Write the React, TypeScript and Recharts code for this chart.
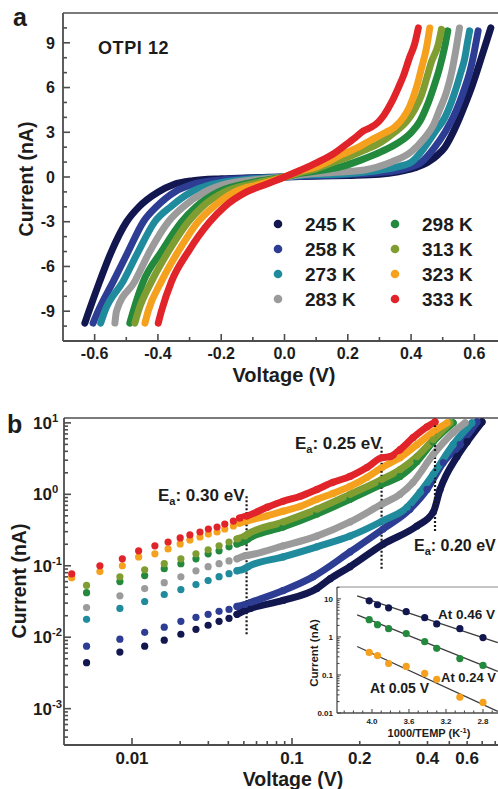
import { ComposedChart, Line, XAxis, YAxis, ReferenceLine, CartesianGrid } from "recharts";

const FONT = '"Liberation Sans", Arial, Helvetica, sans-serif';
const INK = "#1c1c1c";
const AXIS = "#4d4d4d";

const TEMPS = ["245 K", "258 K", "273 K", "283 K", "298 K", "313 K", "323 K", "333 K"];
const COLORS = ["#13174f", "#2e3d94", "#1f8b9d", "#9b9b9b", "#22893d", "#7f9d31", "#f6a11e", "#e1242a"];

// (a) current-voltage sweeps: [voltage V, current nA]
const IV_245 = [
  [-0.631, -9.8], [-0.618, -9], [-0.584, -7], [-0.547, -5], [-0.499, -3], [-0.46, -2], [-0.399, -1],
  [-0.35, -0.5], [-0.29, -0.25], [-0.2, -0.12], [-0.1, -0.05], [0, 0], [0.05, 0.03], [0.2, 0.1],
  [0.3, 0.18], [0.36, 0.35], [0.41, 0.6], [0.454, 1.0], [0.485, 1.5], [0.507, 2.0], [0.533, 3.0],
  [0.554, 4.0], [0.573, 5.0], [0.591, 6.0], [0.607, 7.0], [0.622, 8.0], [0.637, 9.0], [0.652, 10.0],
];
const IV_258 = [
  [-0.605, -9.8], [-0.589, -9], [-0.541, -7], [-0.494, -5], [-0.446, -3], [-0.405, -2], [-0.347, -1],
  [-0.29, -0.5], [-0.2, -0.2], [-0.1, -0.07], [0, 0], [0.05, 0.04], [0.2, 0.17], [0.3, 0.3], [0.38, 0.55],
  [0.433, 1.0], [0.475, 2.0], [0.507, 3.0], [0.533, 4.0], [0.553, 5.0], [0.57, 6.0], [0.585, 7.0],
  [0.596, 8.0], [0.605, 9.0], [0.612, 9.8],
];
const IV_273 = [
  [-0.581, -9.8], [-0.568, -9], [-0.51, -7], [-0.462, -5], [-0.41, -3], [-0.36, -2], [-0.294, -1],
  [-0.23, -0.5], [-0.1, -0.12], [0, 0], [0.05, 0.1], [0.2, 0.22], [0.3, 0.45], [0.36, 0.7], [0.401, 1.0],
  [0.443, 2.0], [0.475, 3.0], [0.507, 4.0], [0.527, 5.0], [0.543, 6.0], [0.557, 7.0], [0.57, 8.0],
  [0.578, 9.0], [0.585, 9.8],
];
const IV_283 = [
  [-0.536, -9.8], [-0.531, -9], [-0.473, -7], [-0.426, -5], [-0.367, -3], [-0.32, -2], [-0.252, -1],
  [-0.19, -0.5], [-0.1, -0.2], [0, 0], [0.05, 0.15], [0.15, 0.3], [0.253, 0.47], [0.338, 1.0],
  [0.401, 1.7], [0.442, 2.6], [0.471, 3.5], [0.49, 4.5], [0.512, 5.7], [0.528, 7.0], [0.543, 8.7],
  [0.553, 10],
];
const IV_298 = [
  [-0.489, -9.8], [-0.478, -9], [-0.446, -7], [-0.389, -5], [-0.325, -3], [-0.28, -2], [-0.209, -1],
  [-0.1, -0.35], [0, 0], [0.05, 0.25], [0.1, 0.4], [0.18, 0.7], [0.243, 1.15], [0.306, 1.7], [0.36, 2.3],
  [0.401, 3.0], [0.427, 3.7], [0.449, 4.7], [0.471, 6.0], [0.49, 7.3], [0.506, 8.7], [0.516, 9.8],
];
const IV_313 = [
  [-0.473, -9.8], [-0.462, -9], [-0.42, -7], [-0.367, -5], [-0.304, -3], [-0.26, -2], [-0.189, -1],
  [-0.1, -0.45], [0, 0], [0.05, 0.3], [0.1, 0.55], [0.15, 0.95], [0.202, 1.35], [0.253, 1.8],
  [0.306, 2.35], [0.348, 3.0], [0.385, 3.7], [0.411, 4.5], [0.433, 5.5], [0.449, 6.6], [0.464, 7.7],
  [0.486, 8.9], [0.496, 9.9],
];
const IV_323 = [
  [-0.441, -9.8], [-0.431, -9], [-0.389, -7], [-0.336, -5], [-0.273, -3], [-0.225, -2], [-0.157, -1],
  [-0.08, -0.5], [0, 0], [0.05, 0.4], [0.1, 0.68], [0.14, 1.05], [0.18, 1.5], [0.234, 2.0], [0.275, 2.5],
  [0.316, 2.95], [0.348, 3.35], [0.376, 4.0], [0.395, 4.7], [0.417, 6.0], [0.433, 7.3], [0.449, 8.7],
  [0.459, 10],
];
const IV_333 = [
  [-0.399, -9.8], [-0.389, -9], [-0.357, -7], [-0.304, -5], [-0.236, -3], [-0.19, -2], [-0.12, -1],
  [-0.06, -0.5], [0, 0], [0.05, 0.45], [0.106, 1], [0.158, 1.6], [0.19, 2.1], [0.221, 2.6], [0.25, 3.1],
  [0.275, 3.35], [0.297, 3.7], [0.316, 4.2], [0.338, 5.0], [0.36, 6.0], [0.376, 6.8], [0.395, 8.0],
  [0.411, 8.9], [0.423, 10],
];
const IV_SETS = [IV_245, IV_258, IV_273, IV_283, IV_298, IV_313, IV_323, IV_333];

// (b) forward branch on log-log axes: [voltage V, current nA]
const LOG_245 = [
  [0.0052, 0.0044], [0.0084, 0.0062], [0.012, 0.0075], [0.0159, 0.0091], [0.0202, 0.011], [0.0251, 0.0129],
  [0.0299, 0.0147], [0.035, 0.0167], [0.0404, 0.0184], [0.0453, 0.0209], [0.0508, 0.0237], [0.055, 0.0253],
  [0.088, 0.0327], [0.129, 0.048], [0.148, 0.066], [0.181, 0.097], [0.254, 0.2], [0.359, 0.36],
  [0.424, 0.56], [0.455, 1.17], [0.541, 3.37], [0.6, 5.45], [0.699, 10.3],
];
const LOG_258 = [
  [0.0052, 0.0075], [0.0084, 0.0094], [0.012, 0.0117], [0.0159, 0.0138], [0.0202, 0.0167], [0.0251, 0.019],
  [0.0299, 0.0209], [0.035, 0.023], [0.0404, 0.0245], [0.0453, 0.027], [0.0508, 0.0287], [0.055, 0.0306],
  [0.088, 0.045], [0.124, 0.07], [0.181, 0.156], [0.254, 0.327], [0.334, 0.62], [0.398, 1.17],
  [0.47, 2.78], [0.558, 4.95], [0.664, 10.3],
];
const LOG_273 = [
  [0.0052, 0.0178], [0.0084, 0.0253], [0.012, 0.0316], [0.0159, 0.0396], [0.0202, 0.0464], [0.0251, 0.0545],
  [0.0299, 0.062], [0.035, 0.0704], [0.0404, 0.0774], [0.0453, 0.085], [0.0508, 0.091], [0.053, 0.097],
  [0.088, 0.133], [0.129, 0.184], [0.181, 0.26], [0.251, 0.42], [0.325, 0.66], [0.371, 1.07],
  [0.424, 1.9], [0.52, 4.95], [0.631, 10],
];
const LOG_283 = [
  [0.0052, 0.026], [0.0084, 0.038], [0.012, 0.048], [0.0159, 0.058], [0.0202, 0.07], [0.0251, 0.085],
  [0.0299, 0.097], [0.035, 0.107], [0.0404, 0.117], [0.0453, 0.125], [0.0508, 0.138], [0.053, 0.14],
  [0.088, 0.19], [0.129, 0.26], [0.181, 0.41], [0.251, 0.73], [0.302, 1.0], [0.345, 1.47],
  [0.424, 3.6], [0.52, 7.3], [0.588, 10],
];
const LOG_298 = [
  [0.0052, 0.042], [0.0084, 0.06], [0.012, 0.073], [0.0159, 0.091], [0.0202, 0.107], [0.0251, 0.125],
  [0.0299, 0.147], [0.035, 0.162], [0.0404, 0.184], [0.0453, 0.202], [0.0508, 0.222], [0.053, 0.237],
  [0.088, 0.348], [0.129, 0.53], [0.181, 0.85], [0.251, 1.38], [0.302, 1.78], [0.359, 2.87],
  [0.424, 5.45], [0.52, 10],
];
const LOG_313 = [
  [0.0052, 0.053], [0.0084, 0.07], [0.012, 0.088], [0.0159, 0.107], [0.0202, 0.125], [0.0251, 0.147],
  [0.0299, 0.167], [0.035, 0.19], [0.0404, 0.215], [0.0453, 0.237], [0.0508, 0.261], [0.053, 0.278],
  [0.088, 0.41], [0.129, 0.62], [0.181, 1.0], [0.251, 1.62], [0.302, 2.22], [0.359, 3.37],
  [0.424, 5.8], [0.504, 10],
];
const LOG_323 = [
  [0.0042, 0.068], [0.0063, 0.083], [0.0087, 0.1], [0.011, 0.133], [0.0139, 0.147], [0.0168, 0.172],
  [0.02, 0.202], [0.023, 0.23], [0.0266, 0.253], [0.03, 0.278], [0.034, 0.297], [0.038, 0.327],
  [0.043, 0.36], [0.047, 0.396], [0.052, 0.422], [0.07, 0.5], [0.088, 0.58], [0.109, 0.68],
  [0.129, 0.85], [0.152, 1.03], [0.181, 1.29], [0.215, 1.72], [0.251, 2.37], [0.302, 3.26],
  [0.359, 4.95], [0.424, 7.5], [0.489, 10],
];
const LOG_333 = [
  [0.0042, 0.077], [0.0063, 0.1], [0.0087, 0.125], [0.011, 0.162], [0.0139, 0.19], [0.0168, 0.215],
  [0.02, 0.245], [0.023, 0.27], [0.0266, 0.297], [0.03, 0.327], [0.034, 0.348], [0.038, 0.383],
  [0.043, 0.422], [0.047, 0.464], [0.052, 0.495], [0.07, 0.66], [0.088, 0.8], [0.109, 0.94],
  [0.129, 1.17], [0.152, 1.47], [0.181, 1.78], [0.215, 2.37], [0.251, 3.26], [0.273, 3.37],
  [0.302, 4.22], [0.345, 6.2], [0.398, 8.8], [0.432, 10.3],
];
const LOG_SETS = [LOG_245, LOG_258, LOG_273, LOG_283, LOG_298, LOG_313, LOG_323, LOG_333];

// inset: currents at three biases against 1000/T
const INSET_X = [4.03, 3.94, 3.82, 3.63, 3.43, 3.3, 3.05, 2.8];
const AT_046 = [8.9, 7.0, 5.8, 4.6, 3.2, 2.2, 1.65, 0.96];
const AT_024 = [2.83, 2.1, 1.65, 1.22, 0.75, 0.5, 0.27, 0.178];
const AT_005 = [0.39, 0.325, 0.2, 0.168, 0.11, 0.077, 0.026, 0.019];
const FIT_046 = [[4.16, 12], [2.64, 0.71]];
const FIT_024 = [[4.16, 3.8], [2.64, 0.124]];
const FIT_005 = [[4.16, 0.56], [2.64, 0.011]];

// activation-energy markers on (b): bias and vertical span in nA
const EA_MARKS = [
  { v: 0.052, from: 0.011, to: 0.94 },
  { v: 0.25, from: 0.091, to: 4.9 },
  { v: 0.432, from: 0.306, to: 11.7 },
];

// the (b) voltage axis is compressed below 0.1 V
const STRETCH = 225 / 160;
const toU = (v: number) => {
  const l = Math.log10(v);
  return l <= -1 ? l : -1 + (l + 1) * STRETCH;
};

type Tk = { v: number; len: number; text?: string; sup?: string };

const near = (a: number, b: number) => Math.abs(a - b) < 1e-9 * Math.max(1, Math.abs(a));

const bottomTick = (list: Tk[], size: number, drop: number, sw = 1.6) => (p: any) => {
  const t = list.find((k) => near(k.v, p.payload.value));
  if (!t) return <g />;
  return (
    <g>
      <line x1={p.x} x2={p.x} y1={p.y} y2={p.y - t.len} stroke={AXIS} strokeWidth={sw} />
      {t.text && (
        <text x={p.x} y={p.y + drop} textAnchor="middle" fontFamily={FONT} fontWeight={700} fontSize={size} fill={INK}>
          {t.text}
        </text>
      )}
    </g>
  );
};

const leftTick = (list: Tk[], size: number, gap: number, anchor: "end" | "start" = "end", sw = 1.6) => (p: any) => {
  const t = list.find((k) => near(k.v, p.payload.value));
  if (!t) return <g />;
  return (
    <g>
      <line x1={p.x} x2={p.x + t.len} y1={p.y} y2={p.y} stroke={AXIS} strokeWidth={sw} />
      {t.text && (
        <text x={p.x - gap} y={p.y} dy={size * 0.36} textAnchor={anchor} fontFamily={FONT} fontWeight={700} fontSize={size} fill={INK}>
          {t.text}
          {t.sup && (
            <tspan dy={-size * 0.42} fontSize={size * 0.66}>
              {t.sup}
            </tspan>
          )}
        </text>
      )}
    </g>
  );
};

const A_XTICKS: Tk[] = [-0.6, -0.5, -0.4, -0.3, -0.2, -0.1, 0, 0.1, 0.2, 0.3, 0.4, 0.5, 0.6].map((v, i) =>
  i % 2 === 0 ? { v, len: 7, text: v.toFixed(1) } : { v, len: 4 }
);
const A_YTICKS: Tk[] = [-10, -9, -8, -7, -6, -5, -4, -3, -2, -1, 0, 1, 2, 3, 4, 5, 6, 7, 8, 9, 10].map((v) =>
  v % 3 === 0 ? { v, len: 7, text: String(v) } : { v, len: 4 }
);

const B_XVALS = [0.01, 0.02, 0.03, 0.04, 0.05, 0.06, 0.07, 0.08, 0.09, 0.1, 0.2, 0.3, 0.4, 0.5, 0.6, 0.7, 0.8];
const B_XLABELS: Record<string, string> = { "0.01": "0.01", "0.1": "0.1", "0.2": "0.2", "0.4": "0.4", "0.6": "0.6" };
const B_XTICKS: Tk[] = B_XVALS.map((v) => ({
  v: toU(v),
  len: v === 0.01 || v === 0.1 ? 7 : 4,
  text: B_XLABELS[String(v)],
}));
const B_YTICKS: Tk[] = [];
[-4, -3, -2, -1, 0, 1].forEach((e) => {
  for (let m = 1; m <= 9; m++) {
    const v = m * Math.pow(10, e);
    if (v < 0.00031 || v > 11) continue;
    B_YTICKS.push(m === 1 ? { v, len: 7, text: "10", sup: String(e) } : { v, len: 4 });
  }
});

const IN_XTICKS: Tk[] = [2.6, 2.7, 2.8, 2.9, 3.0, 3.1, 3.2, 3.3, 3.4, 3.5, 3.6, 3.7, 3.8, 3.9, 4.0, 4.1, 4.2, 4.3].map((v) =>
  [2.8, 3.2, 3.6, 4.0].includes(v) ? { v, len: 4, text: v.toFixed(1) } : { v, len: 2.5 }
);
const IN_YTICKS: Tk[] = [];
[-2, -1, 0, 1].forEach((e) => {
  for (let m = 1; m <= 9; m++) {
    const v = m * Math.pow(10, e);
    if (v > 20) continue;
    IN_YTICKS.push(m === 1 ? { v, len: 4, text: String(v) } : { v, len: 2.5 });
  }
});

const B_UMIN = -2.425;
const B_UMAX = 0.331;
const B_YMIN = 0.00031;
const B_YMAX = 11.7;
const IN_XMIN = 2.562;
const IN_XMAX = 4.378;
const IN_YMAX = 20.5;

const T = (props: any) => <text fontFamily={FONT} fontWeight={700} fill={INK} {...props} />;

// shared axis settings: labels/ticks come from the custom tick renderers
const axisBase = {
  type: "number" as const,
  allowDataOverflow: true,
  interval: 0 as const,
  tickSize: 0,
  tickMargin: 0,
  tickLine: false,
};

export default function App() {
  const ivRows = IV_SETS.map((s) => s.map(([v, i]) => ({ v, i })));
  const logRows = LOG_SETS.map((s) => s.map(([v, i]) => ({ u: toU(v), i })));
  const bandRows = logRows.map((rows, k) => rows.filter((_r, j) => LOG_SETS[k][j][0] >= 0.045));
  const inset = [AT_046, AT_024, AT_005].map((s) => s.map((i, j) => ({ t: INSET_X[j], i })));
  const fits = [FIT_046, FIT_024, FIT_005].map((s) => s.map(([t, i]) => ({ t, i })));
  const insetColors = [COLORS[0], COLORS[4], COLORS[6]];

  return (
    <div style={{ position: "absolute", left: 0, top: 0, width: 498, height: 789, overflow: "hidden", background: "#fff" }}>
      {/* (a) linear I-V */}
      <div style={{ position: "absolute", left: 0, top: 0 }}>
        <ComposedChart width={520} height={400} margin={{ top: 13, right: 14, bottom: 29, left: 23 }}>
          <XAxis
            {...axisBase}
            dataKey="v"
            domain={[-0.7, 0.7]}
            ticks={A_XTICKS.map((t) => t.v)}
            height={30}
            axisLine={{ stroke: AXIS, strokeWidth: 1.8 }}
            tick={bottomTick(A_XTICKS, 16, 18)}
          />
          <YAxis
            {...axisBase}
            dataKey="i"
            domain={[-11, 11]}
            ticks={A_YTICKS.map((t) => t.v)}
            width={40}
            axisLine={{ stroke: AXIS, strokeWidth: 1.8 }}
            tick={leftTick(A_YTICKS, 16, 8)}
          />
          <ReferenceLine y={11} stroke="#7a7a7a" strokeWidth={2} />
          {ivRows.map((rows, k) => (
            <Line
              key={TEMPS[k]}
              data={rows}
              dataKey="i"
              type="monotone"
              stroke={COLORS[k]}
              strokeWidth={7}
              strokeLinecap="round"
              strokeLinejoin="round"
              dot={false}
              isAnimationActive={false}
            />
          ))}
        </ComposedChart>
      </div>

      {/* (b) log-log forward branch */}
      <div style={{ position: "absolute", left: 0, top: 400 }}>
        <ComposedChart width={520} height={389} margin={{ top: 18, right: 15, bottom: 14, left: 24 }}>
          <XAxis
            {...axisBase}
            dataKey="u"
            domain={[B_UMIN, B_UMAX]}
            ticks={B_XTICKS.map((t) => t.v)}
            height={30}
            axisLine={{ stroke: AXIS, strokeWidth: 1.8 }}
            tick={bottomTick(B_XTICKS, 17, 19)}
          />
          <YAxis
            {...axisBase}
            dataKey="i"
            scale="log"
            domain={[B_YMIN, B_YMAX]}
            ticks={B_YTICKS.map((t) => t.v)}
            width={40}
            axisLine={{ stroke: AXIS, strokeWidth: 1.8 }}
            tick={leftTick(B_YTICKS, 17, 31, "start")}
          />
          <ReferenceLine y={B_YMAX} stroke="#7a7a7a" strokeWidth={2} />
          {logRows.map((rows, k) => [
            <Line
              key={`band-${k}`}
              data={bandRows[k]}
              dataKey="i"
              type="monotone"
              stroke={COLORS[k]}
              strokeWidth={7}
              strokeLinecap="round"
              strokeLinejoin="round"
              dot={false}
              isAnimationActive={false}
            />,
            <Line
              key={`dots-${k}`}
              data={rows}
              dataKey="i"
              stroke="none"
              dot={{ r: 3.6, fill: COLORS[k], stroke: "none" }}
              isAnimationActive={false}
            />,
          ])}
          {EA_MARKS.map((m) => (
            <ReferenceLine
              key={m.v}
              segment={[
                { x: toU(m.v), y: m.from },
                { x: toU(m.v), y: m.to },
              ]}
              stroke="#1a1a1a"
              strokeWidth={2.2}
              strokeDasharray="2 2"
            />
          ))}
        </ComposedChart>
      </div>

      {/* inset: Arrhenius plot */}
      <div style={{ position: "absolute", left: 295, top: 580 }}>
        <ComposedChart width={225} height={170} margin={{ top: 7, right: 15, bottom: 17, left: 12 }}>
          <CartesianGrid horizontal={false} vertical={false} fill="#fff" />
          <XAxis
            {...axisBase}
            dataKey="t"
            reversed
            domain={[IN_XMIN, IN_XMAX]}
            ticks={IN_XTICKS.map((t) => t.v)}
            height={20}
            axisLine={{ stroke: AXIS, strokeWidth: 1.3 }}
            tick={bottomTick(IN_XTICKS, 8, 11, 1.1)}
          />
          <YAxis
            {...axisBase}
            dataKey="i"
            scale="log"
            domain={[0.01, IN_YMAX]}
            ticks={IN_YTICKS.map((t) => t.v)}
            width={30}
            axisLine={{ stroke: AXIS, strokeWidth: 1.3 }}
            tick={leftTick(IN_YTICKS, 8, 4, "end", 1.1)}
          />
          <ReferenceLine y={IN_YMAX} stroke="#8c8c8c" strokeWidth={1.2} />
          {fits.map((rows, k) => (
            <Line key={`fit-${k}`} data={rows} dataKey="i" stroke="#3c3c3c" strokeWidth={1.3} dot={false} isAnimationActive={false} />
          ))}
          {inset.map((rows, k) => (
            <Line
              key={`pts-${k}`}
              data={rows}
              dataKey="i"
              stroke="none"
              dot={{ r: 3.6, fill: insetColors[k], stroke: "none" }}
              isAnimationActive={false}
            />
          ))}
        </ComposedChart>
      </div>

      {/* labels */}
      <svg width={498} height={789} style={{ position: "absolute", left: 0, top: 0, pointerEvents: "none" }}>
        <T x={13} y={26} fontSize={25}>a</T>
        <T x={98} y={54} fontSize={18} letterSpacing={0.6}>OTPI 12</T>
        {TEMPS.map((name, k) => {
          const col = Math.floor(k / 4);
          const row = k % 4;
          const cx = col === 0 ? 278 : 395;
          const cy = 224 + row * 25;
          return (
            <g key={name}>
              <circle cx={cx} cy={cy} r={4.3} fill={COLORS[k]} />
              <T x={cx + 27} y={cy + 7} fontSize={19}>{name}</T>
            </g>
          );
        })}
        <T transform="translate(33 179) rotate(-90)" textAnchor="middle" fontSize={19.5}>Current (nA)</T>
        <T x={284} y={382} textAnchor="middle" fontSize={20}>Voltage (V)</T>

        <T x={7} y={433} fontSize={25}>b</T>
        <T transform="translate(26 581) rotate(-90)" textAnchor="middle" fontSize={19.5}>Current (nA)</T>
        <T x={293} y={786} textAnchor="middle" fontSize={19.5}>Voltage (V)</T>
        {[
          { x: 158, y: 501, s: "0.30", f: 17 },
          { x: 295, y: 449, s: "0.25", f: 17 },
          { x: 414, y: 551, s: "0.20", f: 16 },
        ].map((e) => (
          <T key={e.s} x={e.x} y={e.y} fontSize={e.f}>
            E<tspan dy={4} fontSize={11}>a</tspan>
            <tspan dy={-4}>: {e.s} eV</tspan>
          </T>
        ))}

        <T transform="translate(318 653) rotate(-90)" textAnchor="middle" fontSize={11.5}>Current (nA)</T>
        <T x={429} y={737} textAnchor="middle" fontSize={11}>
          1000/TEMP (K<tspan dy={-4} fontSize={7.5}>-1</tspan>
          <tspan dy={4}>)</tspan>
        </T>
        <T x={438} y={619} fontSize={13.5}>At 0.46 V</T>
        <T x={441} y={682} fontSize={13}>At 0.24 V</T>
        <T x={370} y={693} fontSize={14}>At 0.05 V</T>
      </svg>
    </div>
  );
}
